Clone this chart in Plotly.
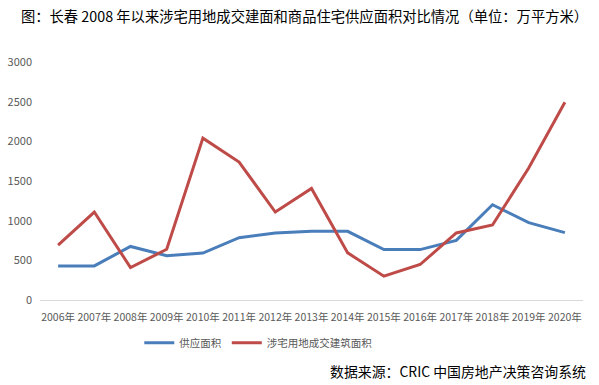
import plotly.graph_objects as go

years = ["2006年", "2007年", "2008年", "2009年", "2010年", "2011年", "2012年", "2013年",
         "2014年", "2015年", "2016年", "2017年", "2018年", "2019年", "2020年"]
supply = [430, 430, 675, 558, 591, 785, 843, 866, 866, 635, 635, 752, 1201, 975, 849]
land = [692, 1109, 409, 639, 2040, 1738, 1109, 1406, 594, 300, 447, 845, 946, 1663, 2493]

font_cjk = "Noto Sans CJK SC, Noto Sans, sans-serif"

fig = go.Figure()
fig.add_trace(go.Scatter(x=years, y=supply, mode="lines", name="供应面积",
                         line=dict(color="#4a7ebb", width=3)))
fig.add_trace(go.Scatter(x=years, y=land, mode="lines", name="涉宅用地成交建筑面积",
                         line=dict(color="#be4b48", width=3)))

fig.update_layout(
    width=599, height=385,
    paper_bgcolor="white", plot_bgcolor="white",
    margin=dict(l=40, r=16, t=62, b=85, autoexpand=False),
    font=dict(family=font_cjk, size=11, color="#595959"),
    title=dict(text="图：长春 2008 年以来涉宅用地成交建面和商品住宅供应面积对比情况（单位：万平方米）",
               x=0.035, xanchor="left", y=0.955, yanchor="middle",
               font=dict(family=font_cjk, size=14.3, color="#000000")),
    xaxis=dict(type="category", range=[-0.5, 14.5], showgrid=False, automargin=False,
               showline=True, linecolor="#d9d9d9", linewidth=1, ticklabelstandoff=7,
               ticks="", tickfont=dict(size=10.5, color="#595959"), tickangle=0),
    yaxis=dict(range=[0, 3000], dtick=500, showgrid=False, zeroline=False, automargin=False,
               showline=False, ticks="", ticklabelstandoff=7,
               tickfont=dict(size=11, color="#595959")),
    legend=dict(orientation="h", x=0.402, xanchor="center", y=-0.18, yanchor="middle",
                font=dict(size=10.5, color="#595959"), itemwidth=30),
    showlegend=True,
)
fig.add_annotation(text="数据来源：CRIC 中国房地产决策咨询系统", xref="paper", yref="paper",
                   x=1.009, xanchor="right", y=-0.30, yanchor="middle", showarrow=False,
                   font=dict(family=font_cjk, size=13.9, color="#000000"))

fig.write_html("out.html", post_script="document.body.style.margin='0';",
               config={"displayModeBar": False})
